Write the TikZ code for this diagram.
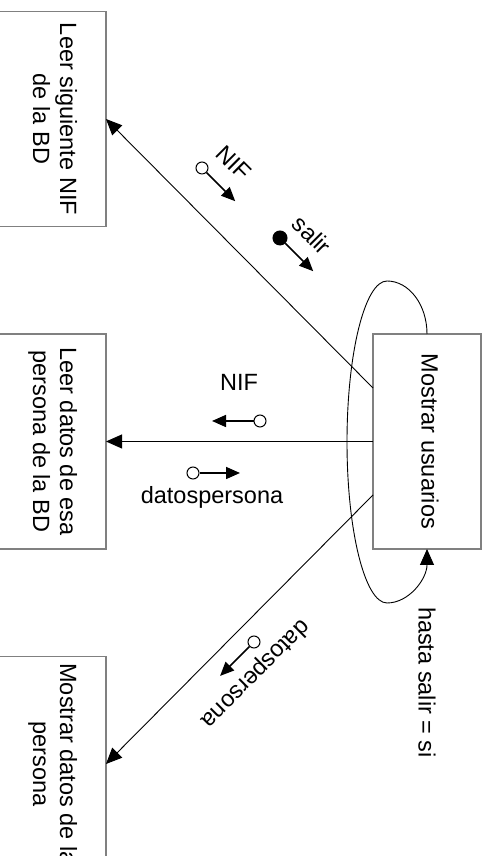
\documentclass[tikz,border=0pt]{standalone}
\usepackage{fontspec}
\setmainfont{Liberation Sans}
\usepackage{graphicx}
\usetikzlibrary{positioning,arrows.meta}

\newcommand{\vtext}[1]{\rotatebox{-90}{\begin{tabular}{@{}c@{}}#1\end{tabular}}}

\begin{document}
\begin{tikzpicture}[auto,x=1pt,y=1pt,node distance=107.5pt,
    every node/.style={font=\fontsize{23.5}{27}\selectfont},
    box/.style={draw=black!50,line width=1.2pt,minimum width=108pt,minimum height=215pt,inner sep=0pt,outer sep=0pt},
    flow/.style={-{Triangle[length=16pt,width=14pt]},line width=0.9pt},
    couple/.style={-{Triangle[length=14pt,width=12pt]},line width=1.6pt},
    dato/.style={circle,draw,fill=white,line width=1pt,minimum size=12pt,inner sep=0pt},
    ctrl/.style={dato,fill=black,minimum size=14pt}]

    \useasboundingbox (0,0) rectangle (490,856);

    \node[box] (0) at (427,414.5) {\vtext{Mostrar usuarios}};
    \node[box] (2) [left=267pt of 0] {\vtext{Leer datos de esa\\persona de la BD}};
    \node[box] (1) [above=of 2] {\vtext{Leer siguiente NIF\\de la BD}};
    \node[box] (3) [below=of 2] {\vtext{Mostrar datos de la\\persona}};

    \draw [flow] ([yshift=53.5pt]0.west) -- (1.east);
    \draw [flow] (0.west) -- (2.east);
    \draw [flow] ([yshift=-53.5pt]0.west) -- (3.east);
    % bucle
    \draw [flow] (0.north) arc[start angle=0,end angle=90,x radius=40pt,y radius=53pt]
        arc[start angle=90,end angle=270,x radius=40pt,y radius=161pt]
        arc[start angle=270,end angle=360,x radius=40pt,y radius=54pt];
    \node[rotate=-90] (h) at (427,173.5) {hasta salir = si};

    % parametros
    \node[dato] (a) at (202,688) {};
    \draw [couple] (a) -- ++(-45:47);
    \node[rotate=-45] (na) at (234,693) {NIF};
    \node[ctrl] (b) at (280,618) {};
    \draw [couple] (b) -- ++(-45:47);
    \node[rotate=-45] (nb) at (312,621) {salir};

    \node[dato] (c) at (260,435) {};
    \draw [couple] (c) -- ++(180:48);
    \node (nc) at (239,473.5) {NIF};
    \node[dato] (d) at (193,383) {};
    \draw [couple] (d) -- ++(0:47);
    \node (nd) at (212,358.5) {datospersona};

    \node[dato] (e) at (254,214) {};
    \draw [couple] (e) -- ++(-135:48);
    \node[rotate=-135] (ne) at (255,182.5) {datospersona};
    % \draw (0,0) -- (490,856);
\end{tikzpicture}
\end{document}
